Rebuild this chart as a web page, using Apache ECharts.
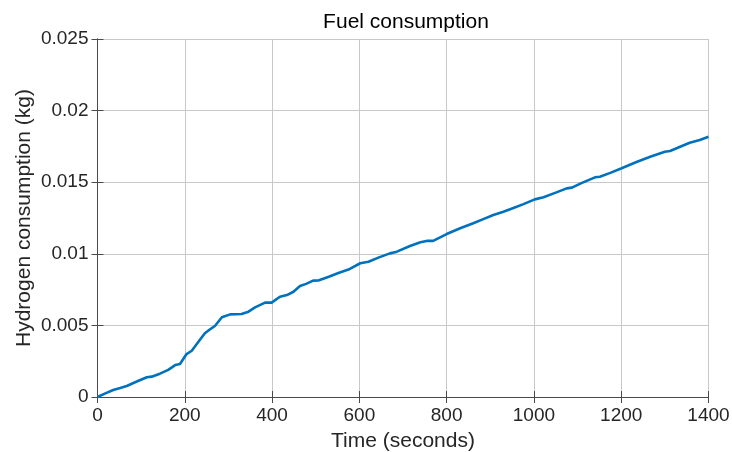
<!DOCTYPE html>
<html><head><meta charset="utf-8">
<script src="https://cdn.jsdelivr.net/npm/echarts@6/dist/echarts.min.js"></script>
<style>html,body{margin:0;padding:0;background:#fff}#c{width:732px;height:452px}</style>
</head><body><div id="c"></div>
<script>
var timeSec = [0,18,36,52,67,90,113,124,143,162,178,189,204,216,230,246,258,269,285,304,330,346,361,384,399,418,434,449,464,478,494,506,530,552,575,602,621,645,670,686,716,740,754,769,800,831,861,884,907,930,953,976,1002,1022,1050,1075,1087,1110,1140,1151,1175,1201,1235,1268,1300,1312,1335,1357,1380,1400];
var fuelKg = [0,0.00025,0.00049,0.00063,0.00077,0.00108,0.00138,0.00142,0.00163,0.00189,0.00223,0.0023,0.0030,0.00323,0.0038,0.00445,0.00473,0.00496,0.00557,0.00577,0.0058,0.00596,0.00626,0.00659,0.00659,0.0070,0.00712,0.00735,0.00775,0.0079,0.00813,0.00814,0.0084,0.00866,0.0089,0.00934,0.00945,0.00975,0.01003,0.01015,0.01054,0.0108,0.0109,0.0109,0.01138,0.01178,0.01213,0.01242,0.01271,0.01294,0.0132,0.01347,0.0138,0.01395,0.01427,0.01457,0.01462,0.01495,0.01534,0.01538,0.01565,0.01597,0.01641,0.01679,0.01713,0.01718,0.01748,0.01776,0.01795,0.01818];
var xTicks = [0,200,400,600,800,1000,1200,1400];
var yTicks = [0,0.005,0.01,0.015,0.02,0.025];

var pts = timeSec.map(function(t,i){return [t,fuelKg[i]];});
var txt = '#262626';
var font = 'Liberation Sans';
var axColor = '#4a4a4a';
var gridColor = '#c8c8c8';
function baseX(pos, show){
  return {type:'value',position:pos,min:xTicks[0],max:xTicks[xTicks.length-1],interval:xTicks[1]-xTicks[0],
    axisLine:{show:true,lineStyle:{color:axColor}},
    axisTick:{show:true,inside:true,length:6,lineStyle:{color:axColor}},
    axisLabel:{show:show,fontFamily:font,fontSize:19,color:txt,margin:9,formatter:function(v){return String(v);}},
    splitLine:{show:show,lineStyle:{color:gridColor}}};
}
function baseY(pos, show){
  return {type:'value',position:pos,min:yTicks[0],max:yTicks[yTicks.length-1],interval:yTicks[1]-yTicks[0],
    axisLine:{show:true,lineStyle:{color:axColor}},
    axisTick:{show:true,inside:true,length:6,lineStyle:{color:axColor}},
    axisLabel:{show:show,fontFamily:font,fontSize:19,color:txt,margin:9,formatter:function(v){return String(parseFloat(v.toFixed(4)));}},
    splitLine:{show:show,lineStyle:{color:gridColor}}};
}
var x0 = baseX('bottom', true);
x0.name = 'Time (seconds)'; x0.nameLocation='middle'; x0.nameGap=34; x0.nameMoveOverlap=false;
x0.nameTextStyle = {fontFamily:font,fontSize:21,color:txt};
var y0 = baseY('left', true);
y0.name = 'Hydrogen consumption (kg)'; y0.nameLocation='middle'; y0.nameGap=63; y0.nameMoveOverlap=false;
y0.nameTextStyle = {fontFamily:font,fontSize:21,color:txt};
var chart = echarts.init(document.getElementById('c'));
chart.setOption({
  animation:false,
  backgroundColor:'#fff',
  title:{text:'Fuel consumption',left:401,textAlign:'center',top:7,textStyle:{fontFamily:font,fontSize:21,fontWeight:'normal',color:'#000'}},
  grid:{left:97.5,right:23.5,top:39,bottom:55,containLabel:false,outerBoundsMode:'none'},
  xAxis:[x0, baseX('top', false)],
  yAxis:[y0, baseY('right', false)],
  series:[{type:'line',data:pts,showSymbol:false,lineStyle:{color:'#0072BD',width:2.6},itemStyle:{color:'#0072BD'}}]
});
</script></body></html>
